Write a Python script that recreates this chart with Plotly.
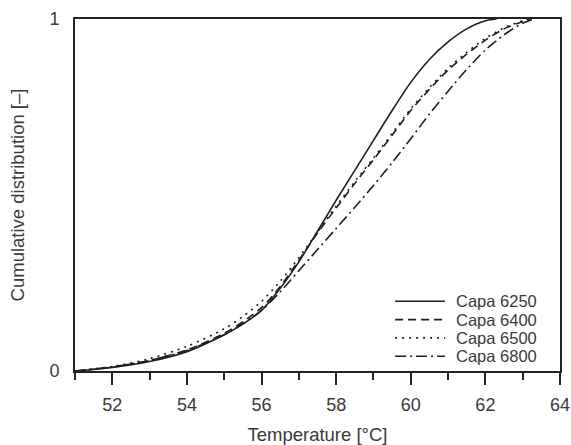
import plotly.graph_objects as go

names = ["Capa 6250", "Capa 6400", "Capa 6500", "Capa 6800"]

t_6250 = [51, 52, 53, 54, 55, 55.5, 56, 56.5, 57, 57.5, 58, 58.5, 59, 59.5, 60, 60.5, 61, 61.5, 62, 62.3]
f_6250 = [0, 0.01, 0.027, 0.055, 0.103, 0.133, 0.172, 0.235, 0.31, 0.397, 0.485, 0.57, 0.655, 0.74, 0.82, 0.885, 0.935, 0.972, 0.995, 1.0]

t_6400 = [51, 52, 53, 54, 55, 55.5, 56, 56.5, 57, 57.5, 58, 58.5, 59, 59.5, 60, 60.5, 61, 61.5, 62, 62.5, 63, 63.2]
f_6400 = [0, 0.011, 0.03, 0.06, 0.107, 0.14, 0.18, 0.24, 0.315, 0.392, 0.463, 0.533, 0.6, 0.67, 0.74, 0.8, 0.855, 0.9, 0.94, 0.972, 0.993, 1.0]

t_6500 = [51, 52, 53, 54, 55, 55.5, 56, 56.5, 57, 57.5, 58, 58.5, 59, 59.5, 60, 60.5, 61, 61.5, 62, 62.5, 63, 63.2]
f_6500 = [0, 0.013, 0.035, 0.07, 0.12, 0.155, 0.198, 0.255, 0.322, 0.395, 0.468, 0.538, 0.605, 0.675, 0.745, 0.805, 0.86, 0.905, 0.945, 0.975, 0.995, 1.0]

t_6800 = [51, 52, 53, 54, 55, 55.5, 56, 56.5, 57, 57.5, 58, 58.5, 59, 59.5, 60, 60.5, 61, 61.5, 62, 62.5, 63, 63.3]
f_6800 = [0, 0.012, 0.03, 0.058, 0.103, 0.135, 0.172, 0.225, 0.285, 0.345, 0.405, 0.465, 0.527, 0.592, 0.66, 0.73, 0.795, 0.857, 0.912, 0.955, 0.988, 1.0]

x_ticks = [52, 54, 56, 58, 60, 62, 64]
y_ticks = [0, 1]

series = [(t_6250, f_6250), (t_6400, f_6400), (t_6500, f_6500), (t_6800, f_6800)]
dashes = ["solid", "8px,5px", "2px,5px", "11px,4px,2px,4px"]
line_color = "#1e1e1e"
text_color = "#3a3a3a"

fig = go.Figure()
for (tx, fy), name, dash in zip(series, names, dashes):
    fig.add_trace(go.Scatter(
        x=tx, y=fy, mode="lines", name=name, showlegend=False,
        line=dict(color=line_color, width=1.6, dash=dash, shape="spline", smoothing=0.8),
    ))

# compact legend like the reference (rows ~18 px apart)
leg_rows = [0.198, 0.146, 0.094, 0.042]
for name, dash, yy in zip(names, dashes, leg_rows):
    fig.add_shape(type="line", xref="paper", yref="paper", x0=0.660, x1=0.763, y0=yy, y1=yy,
                  line=dict(color=line_color, width=1.6, dash=dash))
    fig.add_annotation(xref="paper", yref="paper", x=0.782, y=yy, text=name, showarrow=False,
                       xanchor="left", yanchor="middle", font=dict(size=16.5, color=text_color))

fig.update_layout(
    width=571, height=445,
    margin=dict(l=75, r=11, t=19, b=74),
    plot_bgcolor="white", paper_bgcolor="white",
    font=dict(family="Liberation Sans, Arial, sans-serif", size=18, color=text_color),
)
fig.update_xaxes(
    range=[51, 64], tickvals=x_ticks, ticks="outside", ticklen=12, tickwidth=2, tickcolor="#222",
    ticklabelstandoff=4,
    showline=True, linecolor="#222", linewidth=2, mirror=True, showgrid=False, zeroline=False,
    minor=dict(tick0=51, dtick=1, ticks="outside", ticklen=7, tickwidth=2, tickcolor="#222", showgrid=False),
    title=dict(text="Temperature [°C]", font=dict(size=18.5, color=text_color), standoff=22),
    automargin=False,
)
fig.update_yaxes(
    range=[0, 1], tickvals=y_ticks, ticks="outside", ticklen=10, tickcolor="rgba(0,0,0,0)",
    showline=True, linecolor="#222", linewidth=2, mirror=True, showgrid=False, zeroline=False,
    title=dict(text="Cumulative distribution [–]", font=dict(size=18.5, color=text_color), standoff=20),
    automargin=False,
)

fig.write_html(
    "out.html",
    config={"displayModeBar": False},
    post_script="document.body.style.margin='0';document.documentElement.style.overflow='hidden';",
)
